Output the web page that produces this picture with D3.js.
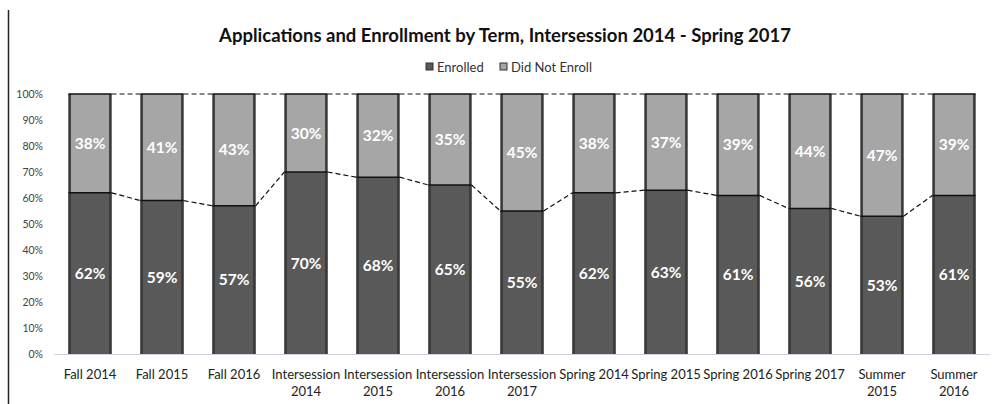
<!DOCTYPE html>
<html>
<head>
<meta charset="utf-8">
<script src="https://cdn.jsdelivr.net/npm/d3@7"></script>
<style>
  html, body { margin: 0; padding: 0; background: #fff; }
  svg { display: block; font-family: Lato, "Open Sans", sans-serif; }
</style>
</head>
<body>
<svg id="chart" width="995" height="404"></svg>
<script>
// Terms shown along the x axis (two-line labels split on "|")
const terms = [
  "Fall 2014", "Fall 2015", "Fall 2016",
  "Intersession|2014", "Intersession|2015", "Intersession|2016", "Intersession|2017",
  "Spring 2014", "Spring 2015", "Spring 2016", "Spring 2017",
  "Summer|2015", "Summer|2016"
];
// Share of applicants, in percent
const enrolled    = [62, 59, 57, 70, 68, 65, 55, 62, 63, 61, 56, 53, 61];
const didNotEnroll = [38, 41, 43, 30, 32, 35, 45, 38, 37, 39, 44, 47, 39];
const yTicks = [0, 10, 20, 30, 40, 50, 60, 70, 80, 90, 100];
const seriesNames = ["Enrolled", "Did Not Enroll"];
const seriesColors = ["#595959", "#a6a6a6"];

const svg = d3.select("#chart");

const x = d3.scaleBand().domain(terms).range([54, 990]).paddingInner(0.4).paddingOuter(0.2);
const y = d3.scaleLinear().domain([0, 100]).range([354, 94]);

// Outer frame line on the left
svg.append("line")
  .attr("x1", 8.5).attr("x2", 8.5).attr("y1", 10).attr("y2", 404)
  .attr("stroke", "#222").attr("stroke-width", 1.5);

// Title
svg.append("text")
  .attr("x", 505).attr("y", 42)
  .attr("text-anchor", "middle")
  .attr("font-size", 18.5).attr("font-weight", 700).attr("fill", "#111")
  .text("Applications and Enrollment by Term, Intersession 2014 - Spring 2017");

// Legend
const legend = svg.append("g");
const legendItems = [{x: 426, name: seriesNames[0], c: seriesColors[0]},
                     {x: 500, name: seriesNames[1], c: seriesColors[1]}];
legendItems.forEach(d => {
  legend.append("rect").attr("x", d.x).attr("y", 63).attr("width", 7).attr("height", 7)
    .attr("fill", d.c).attr("stroke", "#333").attr("stroke-width", 1);
  legend.append("text").attr("x", d.x + 11).attr("y", 71.5)
    .attr("font-size", 13).attr("fill", "#333").text(d.name);
});

// Y axis tick labels
const yAxis = d3.axisLeft(y).tickValues(yTicks).tickFormat(d => d + "%").tickSize(0).tickPadding(0);
const yg = svg.append("g").attr("transform", "translate(43,0)").call(yAxis);
yg.select(".domain").remove();
yg.selectAll("text").attr("font-size", 10.5).attr("fill", "#444").attr("font-family", "Lato, sans-serif");

// Baseline
svg.append("line")
  .attr("x1", 54).attr("x2", 990).attr("y1", y(0) + 0.5).attr("y2", y(0) + 0.5)
  .attr("stroke", "#cdd5e0").attr("stroke-width", 1);

// Stacked data
const rows = terms.map((t, i) => ({term: t, Enrolled: enrolled[i], "Did Not Enroll": didNotEnroll[i]}));
const stack = d3.stack().keys(seriesNames)(rows);

// Series connector lines between neighbouring bars
const bw = x.bandwidth();
const connectors = svg.append("g").attr("fill", "none").attr("stroke", "#111")
  .attr("stroke-width", 1.2).attr("stroke-dasharray", "5,3");
stack.forEach(layer => {
  for (let i = 0; i < layer.length - 1; i++) {
    connectors.append("line")
      .attr("x1", x(terms[i]) + bw).attr("y1", y(layer[i][1]))
      .attr("x2", x(terms[i + 1])).attr("y2", y(layer[i + 1][1]));
  }
});

// Bars
const barsG = svg.append("g");
stack.forEach((layer, li) => {
  barsG.selectAll(null).data(layer).join("rect")
    .attr("x", (d, i) => x(terms[i]))
    .attr("y", d => y(d[1]))
    .attr("width", bw)
    .attr("height", d => y(d[0]) - y(d[1]))
    .attr("fill", seriesColors[li]);
});
// Dark side edges of each column
const edges = svg.append("g").attr("fill", "#3a3a3a");
terms.forEach(t => {
  edges.append("rect").attr("x", x(t)).attr("y", y(100)).attr("width", 2.5).attr("height", y(0) - y(100));
  edges.append("rect").attr("x", x(t) + bw - 2.5).attr("y", y(100)).attr("width", 2.5).attr("height", y(0) - y(100));
});
// Top edges of each segment
stack.forEach(layer => {
  svg.append("g").selectAll(null).data(layer).join("line")
    .attr("x1", (d, i) => x(terms[i])).attr("x2", (d, i) => x(terms[i]) + bw)
    .attr("y1", d => y(d[1])).attr("y2", d => y(d[1]))
    .attr("stroke", "#111").attr("stroke-width", 1.5);
});

// Value labels
stack.forEach(layer => {
  svg.append("g").selectAll(null).data(layer).join("text")
    .attr("x", (d, i) => x(terms[i]) + bw / 2)
    .attr("y", d => y((d[0] + d[1]) / 2) + 5.5)
    .attr("text-anchor", "middle")
    .attr("font-size", 15.5).attr("font-weight", 700).attr("fill", "#fff")
    .text(d => (d[1] - d[0]) + "%");
});

// Category labels
const xg = svg.append("g");
terms.forEach(t => {
  const lines = t.split("|");
  const txt = xg.append("text")
    .attr("x", x(t) + bw / 2).attr("y", 379)
    .attr("text-anchor", "middle").attr("font-size", 13).attr("fill", "#222");
  lines.forEach((ln, k) => {
    txt.append("tspan").attr("x", x(t) + bw / 2).attr("dy", k === 0 ? 0 : 17).text(ln);
  });
});
</script>
</body>
</html>
